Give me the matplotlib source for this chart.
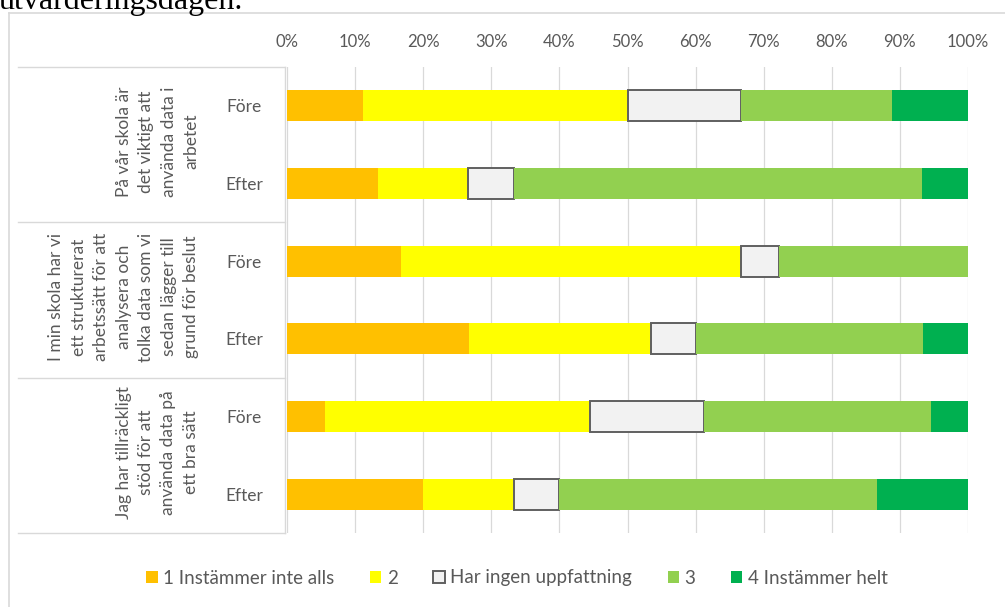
import matplotlib
matplotlib.use("Agg")
import matplotlib.pyplot as plt
from matplotlib.lines import Line2D
import numpy as np

plt.rcParams['font.family'] = ['Lato', 'DejaVu Sans']

# ---------------- data ----------------
row_labels = ["Före", "Efter", "Före", "Efter", "Före", "Efter"]
group_labels = [
    "På vår skola är\ndet viktigt att\nanvända data i\narbetet",
    "I min skola har vi\nett strukturerat\narbetssätt för att\nanalysera och\ntolka data som vi\nsedan lägger till\ngrund för beslut",
    "Jag har tillräckligt\nstöd för att\nanvända data på\nett bra sätt",
]
series_names = ["1 Instämmer inte alls", "2", "Har ingen uppfattning", "3", "4 Instämmer helt"]
# percentages per row (Före/Efter for each statement)
s1 = [11.1, 13.3, 16.7, 26.7, 5.6, 20.0]
s2 = [38.9, 13.3, 50.0, 26.7, 38.9, 13.3]
s_no = [16.7, 6.7, 5.6, 6.7, 16.7, 6.7]
s3 = [22.2, 60.0, 27.8, 33.3, 33.3, 46.7]
s4 = [11.1, 6.7, 0.0, 6.7, 5.6, 13.3]
xticks = [0, 10, 20, 30, 40, 50, 60, 70, 80, 90, 100]
xtick_labels = [f"{t}%" for t in xticks]

colors = ["#FFC000", "#FFFF00", "#F2F2F2", "#92D050", "#00B050"]
edgecolors = ["none", "none", "#606060", "none", "none"]
linewidths = [0, 0, 1.4, 0, 0]

W, H = 1005, 607
fig = plt.figure(figsize=(W / 100, H / 100), dpi=100)

def fx(px):
    return px / W

def fy(py):
    return 1 - py / H

# outer frame (light grey)
fig.add_artist(Line2D([fx(9), fx(1010)], [fy(13), fy(13)], color="#D9D9D9", lw=1.2))
fig.add_artist(Line2D([fx(9), fx(9)], [fy(13), fy(620)], color="#D9D9D9", lw=1.2))

# text above the chart (cut off at the top in the reference)
fig.text(fx(-1), fy(9), "utvärderingsdagen.", family=["Liberation Serif"], fontsize=23,
         color="#000000", ha="left", va="baseline")

ax_left, ax_right, ax_top, ax_bottom = 287, 968, 67, 533
ax = fig.add_axes([fx(ax_left), fy(ax_bottom), fx(ax_right - ax_left), (ax_bottom - ax_top) / H])

y = np.arange(len(row_labels))
data = [s1, s2, s_no, s3, s4]
left = np.zeros(len(row_labels))
handles = []
for vals, c, ec, lw, name in zip(data, colors, edgecolors, linewidths, series_names):
    vals = np.array(vals)
    b = ax.barh(y, vals, left=left, height=0.4, color=c, edgecolor=ec, linewidth=lw,
                label=name, zorder=3)
    left += vals
    handles.append(b)

ax.set_xlim(0, 100)
ax.set_ylim(len(row_labels) - 0.5, -0.5)
ax.set_xticks(xticks)
ax.set_xticklabels(xtick_labels)
ax.xaxis.tick_top()
ax.tick_params(axis="x", length=0, pad=12, labelsize=12, labelcolor="#595959")
ax.set_yticks(y)
ax.set_yticklabels(row_labels)
ax.tick_params(axis="y", length=0, pad=31, labelsize=12.5, labelcolor="#595959")
for lab in ax.get_yticklabels():
    lab.set_ha("center")
ax.grid(axis="x", color="#D9D9D9", lw=0.9, zorder=0)
for sp in ax.spines.values():
    sp.set_visible(False)

# category table lines
line_c = "#D9D9D9"
for py in [67, 222.4, 377.8, 533]:
    fig.add_artist(Line2D([fx(18), fx(285)], [fy(py), fy(py)], color=line_c, lw=1.0))
fig.add_artist(Line2D([fx(285), fx(285)], [fy(67), fy(533)], color=line_c, lw=1.0))

# group labels (rotated)
slot = (ax_bottom - ax_top) / len(row_labels)
for i, g in enumerate(group_labels):
    cy = ax_top + slot * (2 * i + 1)
    fig.text(fx(199), fy(cy - 3), g, rotation=90, ha="right", va="center",
             multialignment="center", fontsize=12.5, color="#595959", linespacing=1.5)

# legend
leg = fig.legend(handles=handles, labels=series_names, loc="center",
                 bbox_to_anchor=(fx(517), fy(578)), ncol=5, frameon=False,
                 fontsize=13.5, labelcolor="#595959", handlelength=0.6, handleheight=0.6,
                 handletextpad=0.3, columnspacing=1.9)

fig.savefig("out.png", dpi=100)
